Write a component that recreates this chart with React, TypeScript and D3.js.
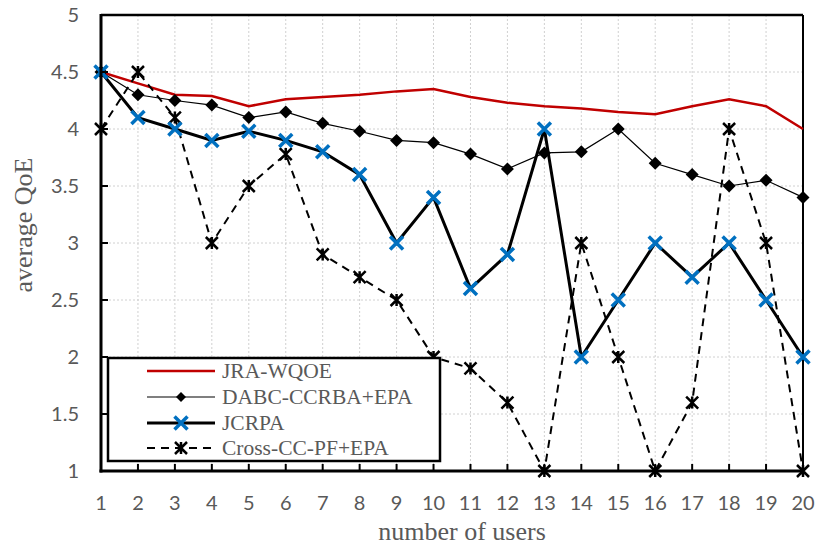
import * as d3 from "d3";

// values
const users = d3.range(1, 21);
const jraWqoe = [4.5, 4.4, 4.3, 4.29, 4.2, 4.26, 4.28, 4.3, 4.33, 4.35, 4.28, 4.23, 4.2, 4.18, 4.15, 4.13, 4.2, 4.26, 4.2, 4.0];
const dabc = [4.5, 4.3, 4.25, 4.21, 4.1, 4.15, 4.05, 3.98, 3.9, 3.88, 3.78, 3.65, 3.79, 3.8, 4.0, 3.7, 3.6, 3.5, 3.55, 3.4];
const jcrpa = [4.5, 4.1, 4.0, 3.9, 3.98, 3.9, 3.8, 3.6, 3.0, 3.4, 2.6, 2.9, 4.0, 2.0, 2.5, 3.0, 2.7, 3.0, 2.5, 2.0];
const crossCC = [4.0, 4.5, 4.1, 3.0, 3.5, 3.78, 2.9, 2.7, 2.5, 2.0, 1.9, 1.6, 1.0, 3.0, 2.0, 1.0, 1.6, 4.0, 3.0, 1.0];
const yTicks = [1, 1.5, 2, 2.5, 3, 3.5, 4, 4.5, 5];
const seriesNames = ["JRA-WQOE", "DABC-CCRBA+EPA", "JCRPA", "Cross-CC-PF+EPA"];

const W = 816;
const H = 546;
const margin = { top: 15, right: 13, bottom: 75, left: 101 };
const textGray = "#595959";
const red = "#c00000";
const blue = "#0070c0";

const x = d3.scaleLinear().domain([1, 20]).range([margin.left, W - margin.right]);
const y = d3.scaleLinear().domain([1, 5]).range([H - margin.bottom, margin.top]);

const line = d3
    .line<number>()
    .x((_, i) => x(users[i]))
    .y((d) => y(d));

const Diamond = ({ cx, cy, r = 6.5 }) => (
    <path d={`M${cx},${cy - r}L${cx + r},${cy}L${cx},${cy + r}L${cx - r},${cy}Z`} fill="#000" />
);

const Cross = ({ cx, cy, r = 6.5 }) => (
    <path
        d={`M${cx - r},${cy - r}L${cx + r},${cy + r}M${cx - r},${cy + r}L${cx + r},${cy - r}`}
        stroke={blue}
        strokeWidth={3.5}
        fill="none"
    />
);

const Star = ({ cx, cy, r = 6 }) => (
    <path
        d={`M${cx - r},${cy - r}L${cx + r},${cy + r}M${cx - r},${cy + r}L${cx + r},${cy - r}M${cx},${cy - r}L${cx},${cy + r}`}
        stroke="#000"
        strokeWidth={2.5}
        fill="none"
    />
);

export default function App() {
    const [x0, x1] = x.range();
    const [y0, y1] = y.range();

    const legend = { left: 108, top: 358, right: 440, bottom: 461 };
    const legendRows = [371, 397, 423, 448];
    const lx0 = 147;
    const lx1 = 215;
    const lmx = 181;

    return (
        <svg width={W} height={H} style={{ position: "absolute", left: 0, top: 0, background: "#fff" }}>
            {/* grid */}
            <g stroke="#d0d0d0" strokeWidth={1} strokeDasharray="2,2">
                {users.map((u) => (
                    <line key={"gx" + u} x1={x(u)} x2={x(u)} y1={y1} y2={y0} />
                ))}
                {yTicks.map((t) => (
                    <line key={"gy" + t} x1={x0} x2={x1} y1={y(t)} y2={y(t)} />
                ))}
            </g>

            {/* frame */}
            <line x1={x0} x2={x1} y1={y1} y2={y1} stroke="#000" strokeWidth={2.5} />
            <line x1={x1} x2={x1} y1={y1} y2={y0} stroke="#000" strokeWidth={2} />

            {/* series */}
            <path d={line(jraWqoe)} fill="none" stroke={red} strokeWidth={2.5} />
            <path d={line(dabc)} fill="none" stroke="#000" strokeWidth={1.2} />
            {dabc.map((v, i) => (
                <Diamond key={"d" + i} cx={x(users[i])} cy={y(v)} />
            ))}
            <path d={line(jcrpa)} fill="none" stroke="#000" strokeWidth={3} />
            <path d={line(crossCC)} fill="none" stroke="#000" strokeWidth={2} strokeDasharray="8,6" />
            {crossCC.map((v, i) => (
                <Star key={"s" + i} cx={x(users[i])} cy={y(v)} />
            ))}
            {jcrpa.map((v, i) => (
                <Cross key={"c" + i} cx={x(users[i])} cy={y(v)} />
            ))}

            {/* axes */}
            <line x1={x0} x2={x0} y1={y1 - 1} y2={y0 + 1.5} stroke="#000" strokeWidth={3} />
            <line x1={x0 - 1.5} x2={x1 + 1} y1={y0} y2={y0} stroke="#000" strokeWidth={3} />
            {yTicks.map((t) => (
                <g key={"ty" + t}>
                    <line x1={x0} x2={x0 + 7} y1={y(t)} y2={y(t)} stroke="#000" strokeWidth={2} />
                    <text
                        x={79}
                        y={y(t)}
                        dy="0.36em"
                        textAnchor="end"
                        fontFamily="Lato, 'Open Sans', sans-serif"
                        fontSize={20}
                        fill={textGray}
                    >
                        {String(t)}
                    </text>
                </g>
            ))}
            {users.map((u) => (
                <g key={"tx" + u}>
                    <line x1={x(u)} x2={x(u)} y1={y0} y2={y0 - 7} stroke="#000" strokeWidth={2} />
                    <text
                        x={x(u)}
                        y={510}
                        textAnchor="middle"
                        fontFamily="Lato, 'Open Sans', sans-serif"
                        fontSize={20}
                        fill={textGray}
                    >
                        {u}
                    </text>
                </g>
            ))}

            {/* axis titles */}
            <text
                x={462}
                y={540}
                textAnchor="middle"
                fontFamily="'Liberation Serif', 'Times New Roman', serif"
                fontSize={26}
                fill={textGray}
            >
                number of users
            </text>
            <text
                transform={`translate(32,225) rotate(-90)`}
                textAnchor="middle"
                fontFamily="'Liberation Serif', 'Times New Roman', serif"
                fontSize={26}
                fill={textGray}
            >
                average QoE
            </text>

            {/* legend */}
            <line x1={x0} x2={legend.left} y1={legend.top - 1} y2={legend.top - 1} stroke="#000" strokeWidth={2} />
            <rect
                x={legend.left}
                y={legend.top}
                width={legend.right - legend.left}
                height={legend.bottom - legend.top}
                fill="#fff"
                stroke="#000"
                strokeWidth={2.5}
            />
            <line x1={lx0} x2={lx1} y1={legendRows[0]} y2={legendRows[0]} stroke={red} strokeWidth={2.5} />
            <line x1={lx0} x2={lx1} y1={legendRows[1]} y2={legendRows[1]} stroke="#000" strokeWidth={1.2} />
            <Diamond cx={lmx} cy={legendRows[1]} r={5} />
            <line x1={lx0} x2={lx1} y1={legendRows[2]} y2={legendRows[2]} stroke="#000" strokeWidth={3} />
            <Cross cx={lmx} cy={legendRows[2]} />
            <line
                x1={lx0}
                x2={lx1}
                y1={legendRows[3]}
                y2={legendRows[3]}
                stroke="#000"
                strokeWidth={2}
                strokeDasharray="8,6"
            />
            <Star cx={lmx} cy={legendRows[3]} />
            {seriesNames.map((name, i) => (
                <text
                    key={name}
                    x={222}
                    y={legendRows[i]}
                    dy="0.33em"
                    fontFamily="'Liberation Serif', 'Times New Roman', serif"
                    fontSize={21.5}
                    fill={textGray}
                >
                    {name}
                </text>
            ))}
        </svg>
    );
}
